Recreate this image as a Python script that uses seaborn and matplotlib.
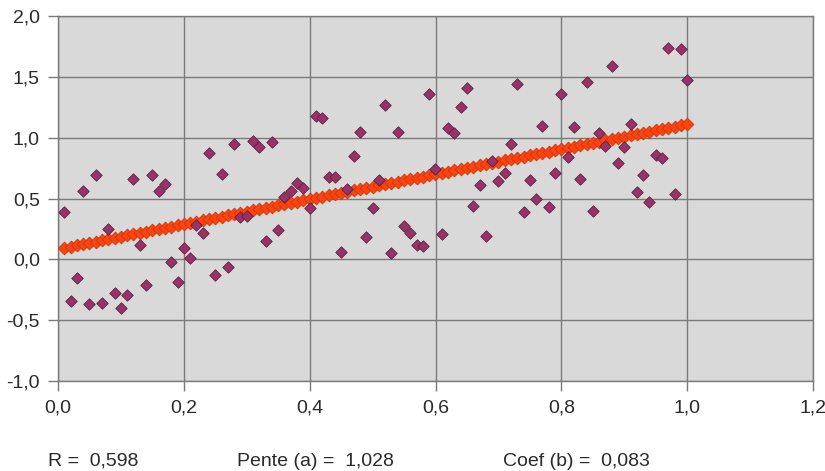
import numpy as np
import pandas as pd
import matplotlib
matplotlib.use("Agg")
import matplotlib.pyplot as plt
import seaborn as sns
from matplotlib.ticker import FuncFormatter

# data: one point per x step of 0.01
x_vals = np.round(np.arange(1, 101) * 0.01, 2)
y_vals = [
    0.39, -0.34, -0.15, 0.56, -0.37, 0.69, -0.36, 0.25, -0.28, -0.40,
    -0.29, 0.66, 0.12, -0.21, 0.69, 0.56, 0.62, -0.02, -0.19, 0.09,
    0.01, 0.28, 0.22, 0.87, -0.13, 0.70, -0.06, 0.95, 0.35, 0.36,
    0.97, 0.92, 0.15, 0.965, 0.24, 0.51, 0.56, 0.63, 0.59, 0.42,
    1.18, 1.16, 0.68, 0.68, 0.06, 0.58, 0.85, 1.05, 0.18, 0.42,
    0.65, 1.27, 0.05, 1.05, 0.27, 0.22, 0.12, 0.11, 1.36, 0.74,
    0.21, 1.08, 1.04, 1.25, 1.41, 0.44, 0.61, 0.19, 0.81, 0.64,
    0.71, 0.95, 1.44, 0.39, 0.65, 0.50, 1.10, 0.43, 0.71, 1.36,
    0.84, 1.09, 0.66, 1.46, 0.40, 1.04, 0.93, 1.59, 0.79, 0.92,
    1.11, 0.55, 0.69, 0.47, 0.86, 0.83, 1.74, 0.54, 1.73, 1.47,
]

# regression values shown under the chart
r_val = 0.598
pente = 1.028
coef = 0.083
y_fit = pente * x_vals + coef

df = pd.DataFrame({"x": x_vals, "y": y_vals, "fit": y_fit})

sns.set_style("white")
plt.rcParams["font.family"] = ["Liberation Sans", "DejaVu Sans"]

fig = plt.figure(figsize=(8.25, 4.71), dpi=100)
ax = fig.add_axes([58 / 825, 90 / 471, 755 / 825, 365 / 471])
ax.set_facecolor("#d9d9d9")

sns.scatterplot(data=df, x="x", y="fit", marker="D", s=42, color="#ff420e",
                edgecolor="#c8380c", linewidth=0.6, ax=ax, zorder=3)
sns.scatterplot(data=df, x="x", y="y", marker="D", s=34, color="#993366",
                edgecolor="#5c1f3e", linewidth=0.6, ax=ax, zorder=4)

ax.set_xlim(0, 1.2)
ax.set_ylim(-1, 2)
ax.set_xticks(np.arange(0, 1.21, 0.2))
ax.set_yticks(np.arange(-1, 2.01, 0.5))
fmt = FuncFormatter(lambda v, p: f"{v:.1f}".replace(".", ","))
ax.xaxis.set_major_formatter(fmt)
ax.yaxis.set_major_formatter(fmt)
ax.grid(True, color="#7a7a7a", linewidth=1.0)
ax.set_axisbelow(True)
for side in ["left", "bottom", "top", "right"]:
    ax.spines[side].set_visible(True)
    ax.spines[side].set_color("#7a7a7a")
    ax.spines[side].set_linewidth(1.0)
ax.tick_params(axis="both", which="both", length=7, width=1.0, color="#7a7a7a",
               labelsize=14, labelcolor="#2a2a2a", pad=6, direction="out",
               bottom=True, left=True)
ax.set_xlabel("")
ax.set_ylabel("")

ty = 1 - 461 / 471
fig.text(48 / 825, ty, "R =  " + f"{r_val:.3f}".replace(".", ","), fontsize=14,
         color="#2a2a2a", va="center")
fig.text(237 / 825, ty, "Pente (a) =  " + f"{pente:.3f}".replace(".", ","),
         fontsize=14, color="#2a2a2a", va="center")
fig.text(503 / 825, ty, "Coef (b) =  " + f"{coef:.3f}".replace(".", ","),
         fontsize=14, color="#2a2a2a", va="center")

fig.savefig("out.png", dpi=100)
